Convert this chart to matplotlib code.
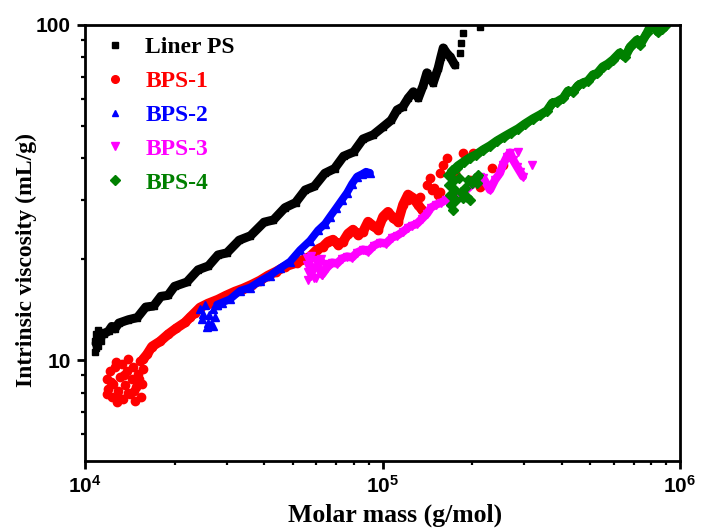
import matplotlib
matplotlib.use("Agg")
import matplotlib.pyplot as plt
from matplotlib.lines import Line2D
from matplotlib.ticker import FixedLocator, NullFormatter

plt.rcParams['mathtext.fontset'] = 'custom'
plt.rcParams['mathtext.bf'] = 'Liberation Sans:bold'
plt.rcParams['mathtext.rm'] = 'Liberation Sans:bold'

# Liner PS (black squares)
ps_loose_x = [10800, 10800, 10900, 10900, 11000, 11100, 11100, 11300, 11500]
ps_loose_y = [10.6, 11.4, 12.0, 10.9, 11.6, 12.3, 11.0, 11.4, 12.1]
ps_x = [10900, 11000, 11300, 11600, 12000, 12300, 12600, 13000, 14000, 15000,
        16000, 17000, 18000, 19000, 20000, 22000, 24000, 26000, 28000, 30000,
        33000, 36000, 40000, 43000, 47000, 51000, 55000, 59000, 64000, 69000,
        74000, 80000, 86000, 93000, 100000, 107000, 112000, 117000, 122000, 127000,
        132000, 137000, 141000, 148000, 154000, 157000, 160000, 165000, 169000, 175000]
ps_y = [11.2, 11.6, 11.8, 12.0, 12.2, 12.6, 12.4, 12.9, 13.2, 13.4,
        14.4, 14.5, 15.5, 15.6, 16.6, 17.1, 18.6, 19.1, 20.6, 20.9,
        22.8, 23.5, 25.8, 26.2, 28.5, 29.5, 32.2, 33.0, 36.1, 37.3,
        40.6, 41.8, 45.7, 47.0, 49.5, 52.0, 55.8, 57.0, 60.5, 63.2,
        60.6, 66.0, 72.0, 67.2, 74.5, 80.0, 85.4, 82.0, 80.3, 76.0]
ps_tail_x = [182200, 184000, 186000, 212600]
ps_tail_y = [82.5, 88.4, 94.7, 98.6]

# BPS-1 (red circles)
b1_loose_x = [11860, 11950, 12130, 12320, 12420, 12620, 12810, 12910, 13110, 13320,
              13420, 13630, 13850, 13950, 14170, 14390, 14500, 14720, 14840, 15070,
              15310, 15430, 15550, 15660, 11900, 12200, 13000, 13500, 14000, 14600,
              15200, 12700]
b1_loose_y = [8.76, 8.18, 9.25, 7.74, 8.46, 9.51, 7.48, 8.07, 8.88, 9.71,
              7.64, 8.41, 9.25, 10.05, 7.90, 8.76, 9.51, 7.53, 8.29, 9.07,
              9.91, 7.74, 8.46, 9.38, 7.9, 8.6, 7.7, 9.0, 8.0, 8.1,
              8.8, 9.9]
b1_x = [15660, 16160, 16800, 17870, 19010, 20230, 21680, 22540, 23430, 24350,
        25910, 28000, 29780, 31930, 33980, 36420, 38750, 41230, 43850, 47020,
        51590, 57040, 60250, 63100, 65580, 68170, 70870, 73670, 76560, 79580,
        82720, 86000, 89400, 92900, 96600, 100400, 104300, 108500, 112800, 117200,
        121800, 126600, 131600, 135800]
b1_y = [10.05, 10.4, 10.98, 11.37, 11.93, 12.43, 12.95, 13.41, 13.87, 14.35,
        14.75, 15.16, 15.58, 16.02, 16.35, 16.81, 17.28, 17.88, 18.37, 19.02,
        19.54, 20.37, 21.37, 21.82, 22.57, 22.88, 22.12, 22.57, 23.85, 24.51,
        23.68, 24.16, 25.89, 25.19, 24.51, 26.8, 27.7, 26.6, 25.89, 29.1,
        31.2, 30.5, 29.1, 28.1]
b1_tail_x = [121800, 133700, 141100, 144400, 146700, 149000, 153700, 156100, 156100, 159700,
             164700, 175200, 186500, 197000, 201500, 209400, 212600, 233500, 254000]
b1_tail_y = [30.1, 30.7, 33.4, 35.0, 32.2, 32.7, 31.2, 36.2, 31.8, 38.3,
             40.2, 36.2, 41.6, 34.5, 41.6, 34.5, 32.9, 37.5, 38.3]

# BPS-2 (blue up triangles)
b2_loose_x = [24350, 24780, 25320, 25720, 26110, 26520, 26930, 27350, 27770, 25000, 26000, 27000]
b2_loose_y = [14.16, 13.22, 14.65, 12.52, 13.68, 12.78, 14.16, 13.41, 14.65, 13.7, 12.9, 12.6]
b2_x = [27770, 28870, 30720, 33190, 35860, 38750, 41870, 45230, 48880, 52800,
        57040, 60700, 64100, 66600, 69800, 73100, 76000, 79000, 82100, 85300,
        88000, 90800]
b2_y = [14.65, 14.85, 15.2, 16.1, 16.47, 17.2, 17.88, 18.8, 19.68, 21.3,
        22.73, 24.4, 25.53, 26.8, 28.4, 30.1, 31.6, 33.6, 35.3, 35.9,
        36.5, 36.2]

# BPS-3 (magenta down triangles)
b3_loose_x = [55750, 55750, 56200, 56200, 57040, 57500, 58400, 59300, 59800, 60700,
              61660, 62600, 56800, 58000, 59000, 60200, 61200, 57500, 62000, 63500]
b3_loose_y = [20.23, 19.28, 18.37, 17.39, 19.68, 17.88, 18.89, 19.95, 17.63, 18.63,
              19.54, 18.0, 19.0, 18.2, 17.6, 19.3, 18.3, 20.4, 20.0, 19.3]
b3_x = [62600, 65100, 67700, 70300, 73100, 76000, 79000, 82100, 86000, 89400,
        93600, 98100, 102700, 107600, 111900, 117200, 121800, 125600, 130600, 135800,
        141100, 145500, 151300, 157300, 163500, 186500, 201500, 217700, 229800, 238900,
        248300, 254100, 262100, 268300, 274600, 283200, 290000, 296700]
b3_y = [18.0, 18.89, 19.54, 19.41, 20.09, 20.37, 20.23, 20.93, 21.37, 21.08,
        21.97, 22.42, 22.27, 23.2, 23.52, 24.16, 24.85, 25.19, 25.53, 26.43,
        27.35, 28.5, 29.1, 29.5, 30.1, 31.6, 33.6, 35.0, 32.2, 34.5,
        36.2, 38.3, 40.5, 41.6, 39.6, 37.8, 36.5, 35.3]
b3_tail_x = [212600, 285500, 318000]
b3_tail_y = [35.3, 41.85, 38.3]

# BPS-4 (green diamonds)
b4_loose_x = [166100, 167300, 168600, 169900, 171200, 172600, 173900, 175200, 176600, 178000,
              180800, 183600, 186500, 189400, 192300, 193800, 196800, 199900, 204600, 207800,
              209400, 185000, 207800]
b4_loose_y = [35.7, 33.4, 31.2, 29.1, 37.0, 28.1, 34.5, 32.2, 30.1, 37.5,
              35.0, 31.8, 30.5, 32.7, 30.7, 34.5, 30.1, 33.8, 35.0, 33.8,
              35.7, 31.6, 35.3]
b4_x = [171200, 179400, 187900, 196800, 206200, 217700, 229800, 242600, 256100, 270400,
        285500, 301300, 320500, 338300, 357200, 372000, 386000, 405000, 420000, 437000,
        455000, 472000, 490000, 510000, 528000, 550000, 572000, 595500, 627000, 653500,
        680000, 717000, 734000, 775000, 793000, 818000, 843000, 870000, 890000]
b4_y = [36.5, 38.0, 39.1, 40.2, 41.0, 42.4, 43.6, 45.1, 46.4, 47.7,
        49.0, 50.7, 52.5, 53.9, 55.5, 58.5, 59.0, 60.5, 63.5, 63.2,
        66.0, 67.2, 68.0, 71.0, 71.8, 75.0, 76.5, 78.7, 82.5, 80.3,
        86.0, 90.2, 87.2, 94.7, 98.6, 98.6, 95.3, 97.3, 99.0]

labels = ['Liner PS', 'BPS-1', 'BPS-2', 'BPS-3', 'BPS-4']
colors = ['black', '#ff0000', '#0000ff', '#ff00ff', '#008000']
markers = ['s', 'o', '^', 'v', 'D']
msizes = [4.6, 6.0, 5.5, 6.0, 5.0]
lwidths = [6.5, 7.0, 5.5, 6.0, 6.5]
leg_sizes = [4.2, 5.5, 5.0, 5.5, 4.6]

groups = [
    (ps_x, ps_y, [ps_loose_x, ps_tail_x], [ps_loose_y, ps_tail_y]),
    (b1_x, b1_y, [b1_loose_x, b1_tail_x], [b1_loose_y, b1_tail_y]),
    (b2_x, b2_y, [b2_loose_x], [b2_loose_y]),
    (b3_x, b3_y, [b3_loose_x, b3_tail_x], [b3_loose_y, b3_tail_y]),
    (b4_x, b4_y, [b4_loose_x], [b4_loose_y]),
]

fig = plt.figure(figsize=(7.01, 5.31), dpi=100)
ax = fig.add_axes([85/701, 1-461/531, 595/701, 436/531])

for i, (px, py, lx, ly) in enumerate(groups):
    c = colors[i]
    ax.plot(px, py, '-', color=c, lw=lwidths[i], solid_joinstyle='round', solid_capstyle='round')
    ax.plot(px, py, linestyle='none', marker=markers[i], color=c, ms=msizes[i], mec=c)
    for xx, yy in zip(lx, ly):
        ax.plot(xx, yy, linestyle='none', marker=markers[i], color=c, ms=msizes[i], mec=c)

ax.set_xscale('log')
ax.set_yscale('log')
ax.set_xlim(1e4, 1e6)
ax.set_ylim(5, 100)

ax.set_xticks([1e4, 1e5, 1e6])
ax.set_xticklabels([r'$\mathbf{10^{4}}$', r'$\mathbf{10^{5}}$', r'$\mathbf{10^{6}}$'])
ax.set_yticks([10, 100])
ax.set_yticklabels(['10', '100'])
ax.xaxis.set_minor_locator(FixedLocator([k * 10**e for e in (4, 5) for k in range(2, 10)]))
ax.yaxis.set_minor_locator(FixedLocator([6, 7, 8, 9] + [k * 10 for k in range(2, 10)]))
ax.xaxis.set_minor_formatter(NullFormatter())
ax.yaxis.set_minor_formatter(NullFormatter())

for sp in ax.spines.values():
    sp.set_linewidth(2.0)
ax.tick_params(which='major', direction='out', length=6, width=2, pad=4)
ax.tick_params(which='minor', direction='out', length=3, width=1.6)
ax.tick_params(top=False, right=False, which='both')
for t in ax.get_xticklabels() + ax.get_yticklabels():
    t.set_fontfamily('Liberation Sans')
    t.set_fontweight('bold')
    t.set_fontsize(15)

ax.set_xlabel('Molar mass (g/mol)', fontfamily='Liberation Serif', fontweight='bold',
              fontsize=18.5)
ax.xaxis.set_label_coords(0.521, -0.098)
ax.set_ylabel('Intrinsic viscosity (mL/g)', fontfamily='Liberation Serif', fontweight='bold',
              fontsize=17)
ax.yaxis.set_label_coords(-0.081, 0.46)

handles = [Line2D([], [], linestyle='none', marker=markers[i], color=colors[i],
                  ms=leg_sizes[i]) for i in range(5)]
leg = ax.legend(handles, labels, loc='upper left', bbox_to_anchor=(0.03, 0.973),
                frameon=False, borderpad=0, borderaxespad=0, handlelength=1.0,
                handletextpad=0.8, labelspacing=0.52,
                prop={'family': 'Liberation Serif', 'weight': 'bold', 'size': 17})
for txt, c in zip(leg.get_texts(), colors):
    txt.set_color(c)

fig.savefig('out.png', dpi=100)
